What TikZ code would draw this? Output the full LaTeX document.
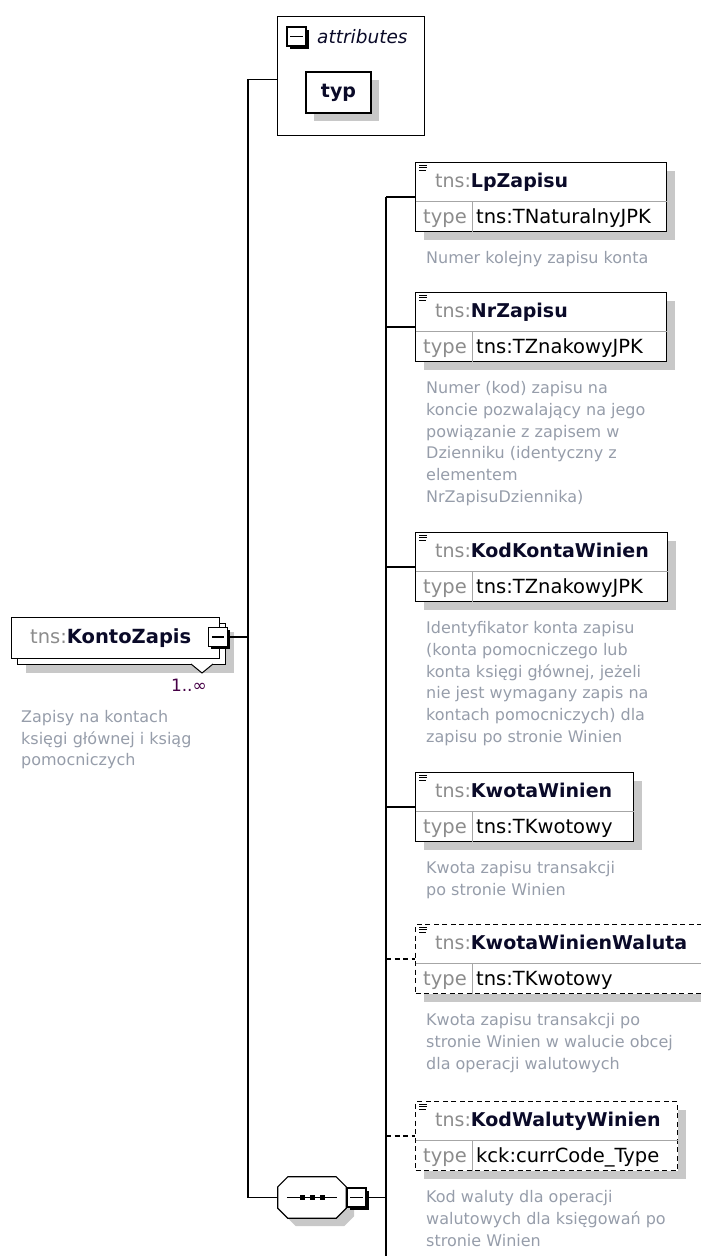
\documentclass[tikz,border=0pt]{standalone}
\usepackage{fontspec}
\setmainfont{DejaVu Sans}
\usetikzlibrary{calc,shadows}

\definecolor{nsgray}{RGB}{140,140,140}
\definecolor{docgray}{RGB}{150,157,170}
\definecolor{shadowgray}{RGB}{200,200,200}
\definecolor{namecol}{RGB}{10,10,40}
\definecolor{cardcol}{RGB}{70,0,70}

\tikzset{
  conn/.style={line width=1.4pt},
  opt/.style={dash pattern=on 5pt off 3.5pt},
  boxshadow/.style={drop shadow={shadow xshift=8pt,shadow yshift=-8pt,draw=none,fill=shadowgray,opacity=1}},
  elembox/.style={draw, fill=white, line width=1.3pt, minimum height=69pt, inner sep=0pt, boxshadow},
  sepline/.style={draw=gray!70, line width=0.8pt, shorten <=0.7pt, shorten >=0.7pt},
  minusbox/.style={draw, fill=white, line width=1.2pt, minimum size=19pt, inner sep=0pt,
    drop shadow={shadow xshift=2.5pt,shadow yshift=-2.5pt,draw=none,fill=black,opacity=1}},
  headtext/.style={inner sep=0pt, font=\fontsize{19}{22}\selectfont},
  typetext/.style={inner sep=0pt, font=\fontsize{19.5}{22}\selectfont},
  doctext/.style={inner sep=0pt, align=left, text=docgray, font=\fontsize{16}{21.7}\selectfont},
}

% #1 id, #2 top left, #3 width, #4 border style, #5 name, #6 type, #7 caption
\newcommand{\xsdelem}[7]{%
  \node[elembox, #4, minimum width=#3, anchor=north west] (#1) at #2 {};
  \draw[sepline] ([yshift=-39pt]#1.north west) -- ([yshift=-39pt]#1.north east);
  \draw[sepline] ([xshift=57pt,yshift=-39pt]#1.north west) -- ([xshift=57pt]#1.south west);
  \draw[line width=0.9pt] ([xshift=4pt,yshift=-3pt]#1.north west) -- ++(8,0)
    ([xshift=4pt,yshift=-5.5pt]#1.north west) -- ++(8,0)
    ([xshift=4pt,yshift=-8pt]#1.north west) -- ++(7,0);
  \node[headtext, anchor=base west] (#1-name) at ([xshift=20pt,yshift=-25pt]#1.north west)
    {\textcolor{nsgray}{tns:}\textcolor{namecol}{\textbf{#5}}};
  \node[typetext, anchor=base west, text=nsgray] (#1-tlabel) at ([xshift=8pt,yshift=-61pt]#1.north west) {type};
  \node[typetext, anchor=base west] (#1-type) at ([xshift=61pt,yshift=-61pt]#1.north west) {#6};
  \node[doctext, anchor=north west] (#1-doc) at ([xshift=11pt,yshift=-19pt]#1.south west) {#7};
  \coordinate (#1-in) at ([yshift=-35pt]#1.north west);
}

\begin{document}
\begin{tikzpicture}[x=1pt, y=-1pt]
\useasboundingbox (0,0) rectangle (701,1256);

\node[draw, line width=1.2pt, minimum width=147pt, minimum height=119pt, inner sep=0pt, anchor=north west] (attr) at (277,16) {};
\node[minusbox] (attr-minus) at (296.5,36.5) {};
\draw[line width=1.2pt] ([xshift=4pt]attr-minus.west) -- ([xshift=-4pt]attr-minus.east);
\node[anchor=base west, inner sep=0pt, font=\fontsize{18.5}{20}\selectfont\itshape, text=namecol] (attr-label) at (317,43) {attributes};
\node[draw, fill=white, line width=1.3pt, minimum width=65pt, minimum height=41pt, inner sep=0pt, boxshadow,
  font=\fontsize{19}{22}\selectfont\bfseries, text=namecol] (typ) at (338.5,92.5) {typ};

\node[draw, fill=white, line width=1.3pt, minimum width=208pt, minimum height=41pt, inner sep=0pt, anchor=north west,
  drop shadow={shadow xshift=14pt,shadow yshift=-14pt,draw=none,fill=shadowgray,opacity=1},
  general shadow={shadow xshift=6pt,shadow yshift=-6pt,draw=black,fill=white,line width=1.3pt}] (kz) at (11,617) {};
\node[headtext, font=\fontsize{19.5}{22}\selectfont, anchor=base west] (kz-name) at (30,643)
  {\textcolor{nsgray}{tns:}\textcolor{namecol}{\textbf{KontoZapis}}};
\node[minusbox] (kz-minus) at (218,637) {};
\draw[line width=1.2pt] ([xshift=4pt]kz-minus.west) -- ([xshift=-4pt]kz-minus.east);
\draw[line width=1pt, fill=white] (191,664) -- (202,673) -- (213,664);
\node[anchor=base east, inner sep=0pt, font=\fontsize{17}{20}\selectfont, text=cardcol] (kz-card) at (207,691) {1..∞};
\node[doctext, anchor=north west] (kz-doc) at (21,710) {Zapisy na kontach\\księgi głównej i ksiąg\\pomocniczych};

\node[minimum width=68pt, minimum height=41pt, inner sep=0pt] (seq) at (312,1197.5) {};
\draw[line width=1.2pt, fill=white, boxshadow] ([xshift=10pt]seq.north west) -- ([xshift=-10pt]seq.north east)
  -- ([yshift=-10pt]seq.north east) -- ([yshift=10pt]seq.south east) -- ([xshift=-10pt]seq.south east)
  -- ([xshift=10pt]seq.south west) -- ([yshift=10pt]seq.south west) -- ([yshift=-10pt]seq.north west) -- cycle;
\draw[line width=1.2pt] ([xshift=9pt]seq.west) -- ([xshift=-9pt]seq.east);
\foreach \dx in {-10,0,10}
  \fill ([xshift=\dx pt]seq.center) +(-2.5,-2.5) rectangle +(2.5,2.5);
\node[minusbox] (seq-minus) at (356.5,1197.5) {};
\draw[line width=1.2pt] ([xshift=4pt]seq-minus.west) -- ([xshift=-4pt]seq-minus.east);

\xsdelem{lp}{(415,162)}{251pt}{solid}{LpZapisu}{tns:TNaturalnyJPK}{Numer kolejny zapisu konta}
\xsdelem{nr}{(415,292)}{251pt}{solid}{NrZapisu}{tns:TZnakowyJPK}{Numer (kod) zapisu na\\koncie pozwalający na jego\\powiązanie z zapisem w\\Dzienniku (identyczny z\\elementem\\NrZapisuDziennika)}
\xsdelem{kk}{(415,532)}{252pt}{solid}{KodKontaWinien}{tns:TZnakowyJPK}{Identyfikator konta zapisu\\(konta pomocniczego lub\\konta księgi głównej, jeżeli\\nie jest wymagany zapis na\\kontach pomocniczych) dla\\zapisu po stronie Winien}
\xsdelem{kw}{(415,772)}{218pt}{solid}{KwotaWinien}{tns:TKwotowy}{Kwota zapisu transakcji\\po stronie Winien}
\xsdelem{kww}{(415,924)}{300pt}{opt}{KwotaWinienWaluta}{tns:TKwotowy}{Kwota zapisu transakcji po\\stronie Winien w walucie obcej\\dla operacji walutowych}
\xsdelem{kwal}{(415,1101)}{262pt}{opt}{KodWalutyWinien}{kck:currCode\_Type}{Kod waluty dla operacji\\walutowych dla księgowań po\\stronie Winien}

\coordinate (kz-bus) at (248,637);
\coordinate (seq-bus) at (386,1197.5);
\coordinate (bus-end) at (386,1260);
\draw[conn] (kz-minus.east) -- (kz-bus);
\draw[conn] ([yshift=-3.5pt]attr.west) -| (kz-bus);
\draw[conn] (seq.west) -| (kz-bus);
\draw[conn] (seq-minus.east) -- (seq-bus);
\draw[conn] (seq-bus |- lp-in) -- (bus-end);
\draw[conn] (seq-bus |- lp-in) -- (lp-in);
\draw[conn] (seq-bus |- nr-in) -- (nr-in);
\draw[conn] (seq-bus |- kk-in) -- (kk-in);
\draw[conn] (seq-bus |- kw-in) -- (kw-in);
\draw[conn, opt] (seq-bus |- kww-in) -- (kww-in);
\draw[conn, opt] (seq-bus |- kwal-in) -- (kwal-in);
\end{tikzpicture}
\end{document}
